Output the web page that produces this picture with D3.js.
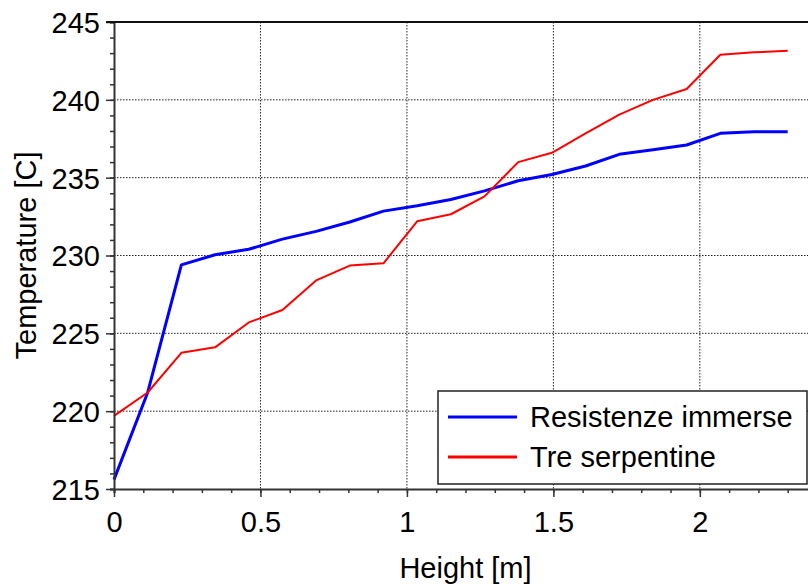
<!DOCTYPE html>
<html>
<head>
<meta charset="utf-8">
<script src="https://cdn.jsdelivr.net/npm/d3@7"></script>
<style>
  html, body { margin: 0; padding: 0; background: #fff; overflow: hidden; }
  svg { display: block; font-family: "Liberation Sans", Arial, sans-serif; }
  .grid line { stroke: #222; stroke-width: 1; stroke-dasharray: 1.5 1.5; }
  .serie { fill: none; stroke-linejoin: round; }
</style>
</head>
<body>
<svg id="chart" width="808" height="586"></svg>
<script>
// Heights along the tank [m]
const heights = [0, 0.115, 0.23, 0.345, 0.46, 0.575, 0.69, 0.805, 0.92, 1.035, 1.15,
  1.265, 1.38, 1.495, 1.61, 1.725, 1.84, 1.955, 2.07, 2.185, 2.3];

// Temperature [C]
const resistenze = [215.6, 221.2, 229.4, 230.05, 230.4, 231.05, 231.55, 232.15, 232.85, 233.2, 233.6,
  234.15, 234.8, 235.2, 235.75, 236.5, 236.8, 237.1, 237.85, 237.95, 237.95];
const serpentine = [219.7, 221.2, 223.75, 224.1, 225.7, 226.5, 228.4, 229.35, 229.5, 232.2, 232.65,
  233.8, 236.0, 236.6, 237.85, 239.05, 240.0, 240.7, 242.9, 243.05, 243.15];

const seriesNames = ["Resistenze immerse", "Tre serpentine"];
const seriesColors = ["#0000ff", "#ff0000"];

const xTicks = [0, 0.5, 1, 1.5, 2];
const yTicks = [215, 220, 225, 230, 235, 240, 245];

const svg = d3.select('#chart');
const margin = { top: 22, left: 114, bottom: 489 };
const plotRight = 817; // the axes box runs a little past the window
const fontSize = 29;

const x = d3.scaleLinear().domain([0, 2.4]).range([margin.left, plotRight]);
const y = d3.scaleLinear().domain([215, 245]).range([margin.bottom, margin.top]);

function drawGrid() {
  const g = svg.append('g').attr('class', 'grid');
  g.selectAll('.gy')
    .data(yTicks.filter(d => d > 215 && d < 245))
    .join('line')
    .attr('x1', margin.left).attr('x2', plotRight)
    .attr('y1', d => y(d)).attr('y2', d => y(d));
  g.selectAll('.gx')
    .data(xTicks.filter(d => d > 0))
    .join('line')
    .attr('x1', d => x(d)).attr('x2', d => x(d))
    .attr('y1', margin.top).attr('y2', margin.bottom);
}

function drawAxes() {
  const minorX = d3.range(0, 24).map(d => d / 10);
  const minorY = d3.range(215, 246);

  const axisX = svg.append('g').attr('transform', `translate(0,${margin.bottom})`);
  axisX.call(d3.axisBottom(x).tickValues(minorX).tickSize(4).tickFormat(''));
  axisX.call(g => g.append('g').call(d3.axisBottom(x).tickValues(xTicks).tickSize(8).tickFormat(d3.format('')))
    .call(g => g.select('.domain').remove()));
  axisX.selectAll('.domain').attr('stroke', '#333').attr('stroke-width', 2);
  axisX.selectAll('line').attr('stroke', '#333').attr('stroke-width', 1.5);
  axisX.selectAll('text')
    .attr('font-size', fontSize).attr('fill', '#000').attr('font-family', 'Liberation Sans, Arial, sans-serif')
    .attr('y', 22).attr('dy', '0.71em');

  const axisY = svg.append('g').attr('transform', `translate(${margin.left},0)`);
  axisY.call(d3.axisLeft(y).tickValues(minorY).tickSize(4).tickFormat(''));
  axisY.call(g => g.append('g').call(d3.axisLeft(y).tickValues(yTicks).tickSize(8))
    .call(g => g.select('.domain').remove()));
  axisY.selectAll('.domain').attr('stroke', '#333').attr('stroke-width', 2);
  axisY.selectAll('line').attr('stroke', '#333').attr('stroke-width', 1.5);
  axisY.selectAll('text')
    .attr('font-size', fontSize).attr('fill', '#000').attr('font-family', 'Liberation Sans, Arial, sans-serif')
    .attr('x', -14).attr('dy', '0.36em');

  // top edge of the box
  svg.append('line')
    .attr('x1', margin.left - 8).attr('x2', plotRight)
    .attr('y1', margin.top).attr('y2', margin.top)
    .attr('stroke', '#111').attr('stroke-width', 2);

  svg.append('text')
    .attr('x', (margin.left + plotRight) / 2).attr('y', 578)
    .attr('text-anchor', 'middle').attr('font-size', fontSize)
    .text('Height [m]');

  svg.append('text')
    .attr('transform', `translate(36,${(margin.top + margin.bottom) / 2}) rotate(-90)`)
    .attr('text-anchor', 'middle').attr('font-size', fontSize)
    .text('Temperature [C]');
}

function drawLines() {
  const line = d3.line()
    .x((d, i) => x(heights[i]))
    .y(d => y(d));

  [resistenze, serpentine].forEach((values, k) => {
    svg.append('path')
      .attr('class', 'serie')
      .attr('stroke', seriesColors[k])
      .attr('stroke-width', k === 0 ? 3 : 2)
      .attr('d', line(values));
  });
}

function drawLegend() {
  const lg = svg.append('g');
  lg.append('rect')
    .attr('x', 438).attr('y', 391).attr('width', 369).attr('height', 93)
    .attr('fill', '#fff').attr('stroke', '#222').attr('stroke-width', 1.5);

  seriesNames.forEach((name, k) => {
    const cy = 417 + k * 40;
    lg.append('line')
      .attr('x1', 448).attr('x2', 517).attr('y1', cy).attr('y2', cy)
      .attr('stroke', seriesColors[k]).attr('stroke-width', 3);
    lg.append('text')
      .attr('x', 530).attr('y', cy + 10)
      .attr('font-size', fontSize)
      .text(name);
  });
}

drawGrid();
drawLines();
drawAxes();
drawLegend();
</script>
</body>
</html>
